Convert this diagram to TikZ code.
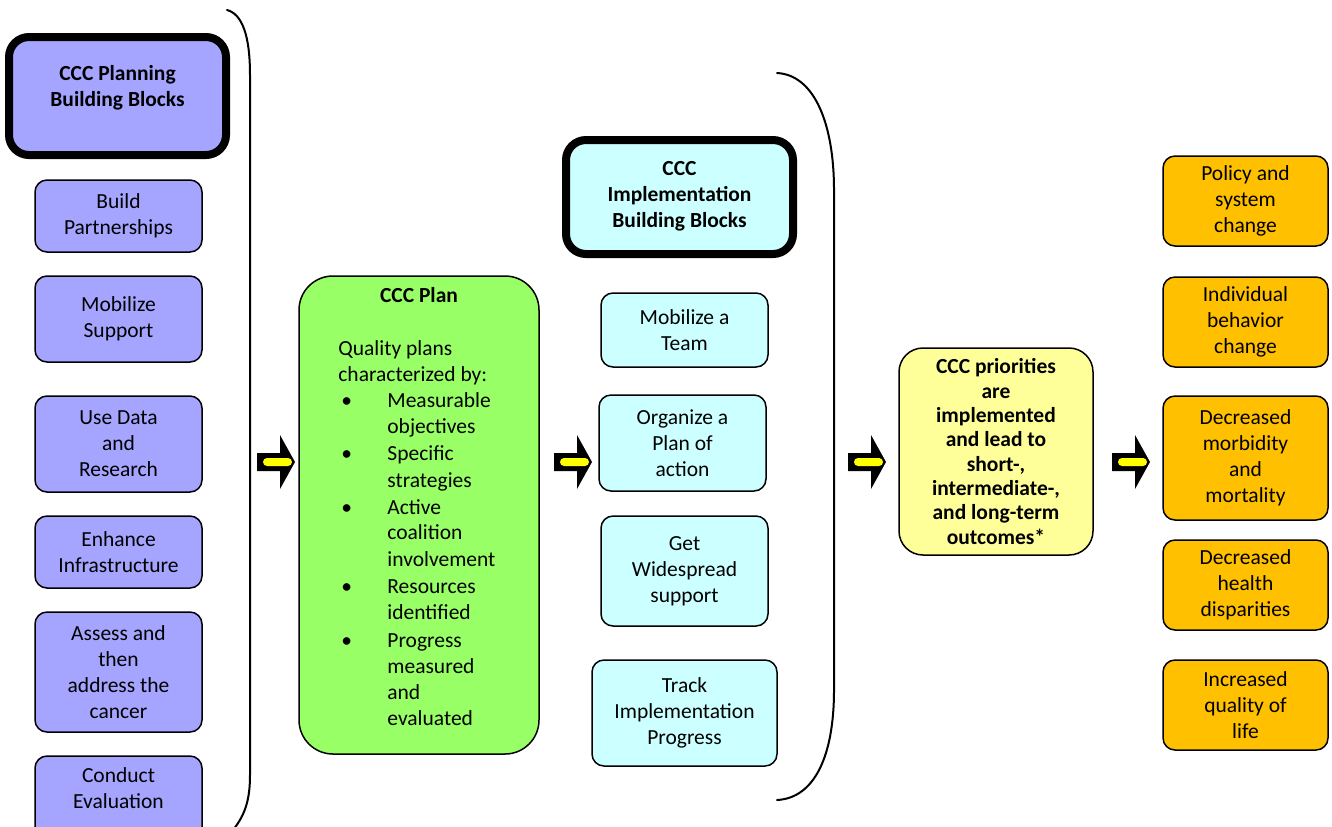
\documentclass[tikz,border=0pt]{standalone}
\usepackage{fontspec}
\setmainfont{Carlito}
\definecolor{blu}{HTML}{A5A5FF}
\definecolor{grn}{HTML}{99FF66}
\definecolor{cyn}{HTML}{CCFFFF}
\definecolor{ylw}{HTML}{FFFF99}
\definecolor{org}{HTML}{FFC000}
\definecolor{arrowyellow}{HTML}{FFFF00}
\newcommand\fs{\fontsize{10.75}{13}\selectfont}
\newcommand\fsy{\fontsize{10.75}{12.15}\selectfont}
\newcommand\bx[7]{\node[#6, minimum width={(#4-#2)*0.5pt}, minimum height={(#5-#3)*0.5pt}] (#1) at ({(#2+#4)/2},{(#3+#5)/2}) {#7};}
\newcommand\blockarrow[2]{%
  \fill[black] (#1,#2-9) -- (#1+23,#2-9) -- (#1+23,#2-27) -- (#1+38,#2) -- (#1+23,#2+27) -- (#1+23,#2+9) -- (#1,#2+9) -- cycle;
  \fill[arrowyellow, rounded corners=2pt] (#1+6,#2-4) rectangle (#1+35,#2+4);
}
\tikzset{
  sbox/.style={draw=black, line width=0.75pt, rounded corners=6pt, align=center, inner sep=0pt, outer sep=0pt, font=\fs},
  hdr/.style={draw=black, line width=4pt, rounded corners=10pt, inner sep=0pt, outer sep=0pt},
  htext/.style={font=\fs\bfseries, align=center, inner sep=0pt},
  ptext/.style={font=\fs, inner sep=0pt, anchor=base west},
  brk/.style={line width=1pt, line cap=round},
}
\begin{document}
\begin{tikzpicture}[x=0.5pt, y=-0.5pt]
\clip (0,0) rectangle (1332,826);
\fill[white] (0,0) rectangle (1332,826);

% left column
\bx{h1}{9}{37}{226}{155}{hdr, fill=blu}{}
\node[htext] (h1t) at (117.5,88) {CCC Planning\\Building Blocks};
\bx{b1}{35}{180}{202}{252}{sbox, fill=blu}{Build\\Partnerships}
\bx{b2}{35}{276}{202}{362}{sbox, fill=blu}{Mobilize\\Support}
\bx{b3}{35}{396}{202}{492}{sbox, fill=blu}{Use Data\\and\\Research}
\bx{b4}{35}{516}{202}{588}{sbox, fill=blu}{Enhance\\Infrastructure}
\bx{b5}{35}{612}{202}{732}{sbox, fill=blu}{Assess and\\then\\address the\\cancer}
\bx{b6}{35}{756}{202}{860}{sbox, fill=blu}{}
\node[font=\fs, align=center, inner sep=0pt] (b6t) at (118.5,788) {Conduct\\Evaluation};

% left bracket
\draw[brk] (227,10) .. controls (242,14) and (250,35) .. (250,75) -- (250,775) .. controls (250,800) and (245,815) .. (233,830);

% arrows
\blockarrow{257}{462}
\blockarrow{554}{462}
\blockarrow{848}{462}
\blockarrow{1112}{462}

% green plan box
\bx{plan}{299}{276}{539}{754}{sbox, fill=grn, rounded corners=17pt}{}
\node[htext, anchor=base] (plant) at (419,302) {CCC Plan};
\node[ptext] (p1) at (338,355) {Quality plans};
\node[ptext] (p2) at (338,381) {characterized by:};
\foreach \y in {407,460,514,593,647} {\node[ptext] at (341,\y) {\textbullet};}
\node[ptext] (q1) at (387,407) {Measurable};
\node[ptext] (q2) at (387,433) {objectives};
\node[ptext] (q3) at (387,460) {Specific};
\node[ptext] (q4) at (387,487) {strategies};
\node[ptext] (q5) at (387,514) {Active};
\node[ptext] (q6) at (387,539) {coalition};
\node[ptext] (q7) at (387,566) {involvement};
\node[ptext] (q8) at (387,593) {Resources};
\node[ptext] (q9) at (387,619) {identified};
\node[ptext] (q10) at (387,647) {Progress};
\node[ptext] (q11) at (387,673) {measured};
\node[ptext] (q12) at (387,699) {and};
\node[ptext] (q13) at (387,725) {evaluated};

% implementation column
\bx{h2}{566}{140}{793}{254}{hdr, fill=cyn}{}
\node[htext] (h2t) at (679.5,196) {CCC\\Implementation\\Building Blocks};
\bx{c1}{601}{293}{768}{367}{sbox, fill=cyn}{Mobilize a\\Team}
\bx{c2}{599}{395}{766}{491}{sbox, fill=cyn}{Organize a\\Plan of\\action}
\bx{c3}{601}{516}{768}{626}{sbox, fill=cyn}{Get\\Widespread\\support}
\bx{c4}{592}{660}{777}{766}{sbox, fill=cyn}{Track\\Implementation\\Progress}

% right bracket
\draw[brk] (777,73) .. controls (815,75) and (834,125) .. (834,190) -- (834,690) .. controls (834,755) and (815,798) .. (777,800);

% yellow box
\bx{y1}{899}{348}{1093}{555}{sbox, fill=ylw, rounded corners=12pt, font=\fsy\bfseries}{CCC priorities\\are\\implemented\\and lead to\\short-,\\intermediate-,\\and long-term\\outcomes*}

% outcomes
\bx{o1}{1163}{156}{1328}{246}{sbox, fill=org}{Policy and\\system\\change}
\bx{o2}{1163}{277}{1328}{367}{sbox, fill=org}{Individual\\behavior\\change}
\bx{o3}{1163}{396}{1328}{520}{sbox, fill=org}{Decreased\\morbidity\\and\\mortality}
\bx{o4}{1163}{540}{1328}{630}{sbox, fill=org}{Decreased\\health\\disparities}
\bx{o5}{1163}{660}{1328}{750}{sbox, fill=org}{Increased\\quality of\\life}
\end{tikzpicture}
\end{document}
